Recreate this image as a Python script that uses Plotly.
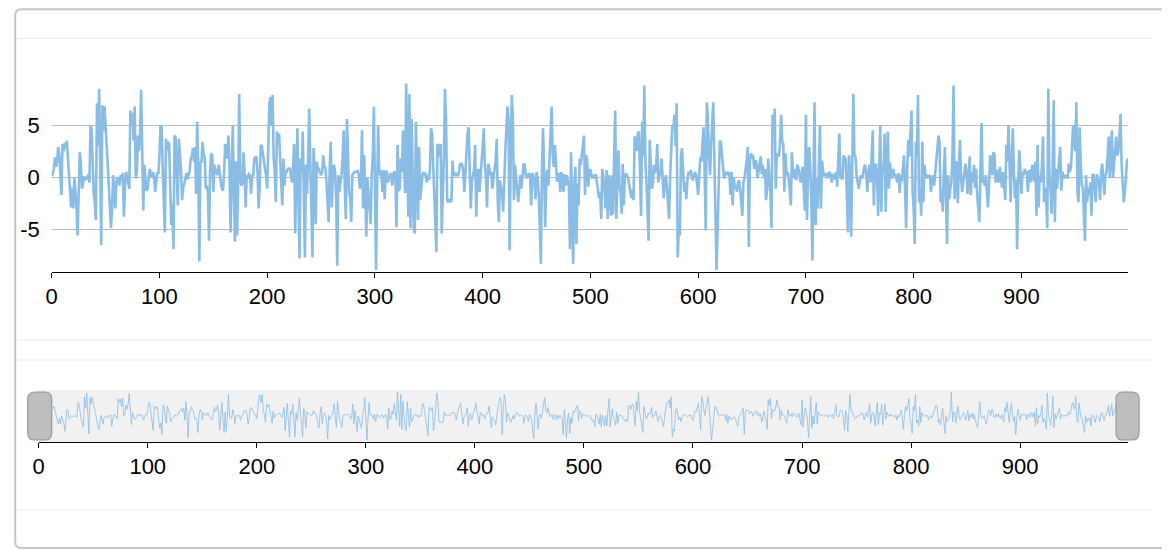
import plotly.graph_objects as go
from plotly.subplots import make_subplots

# series values, index 0..999
vals_000 = [0.1, 0.3, 0.8, 1.9, 1.0, 1.5, 2.9, 2.2, 0.3, -1.7,
            3.2, 2.5, 3.3, 2.8, 3.5, 2.0, 0.6, -0.5, -2.9, -1.0,
            -3.0, 0.0, -1.5, -2.8, -5.6, -0.5, 2.4, 1.5, -1.1, -0.6,
            0.1, -0.3, 0.0, -0.2, 0.3, -0.5, 5.0, 4.6, 1.0, -1.5,
            -2.5, -4.1, 7.1, 3.0, 8.5, 2.0, -6.5, 6.9, 4.5, 6.8,
            5.3, 3.0, 1.2, -0.5, -2.0, -4.9, -3.0, 0.2, -1.0, -3.0,
            -0.5, 0.0, -0.3, -0.8, 0.2, -0.1, 0.4, -3.8, -1.0, 0.5,
            0.2, -0.4, -1.1, 6.4, 5.0, 6.2, 3.5, 6.8, -0.1, 0.5,
            4.0, 2.5, 4.3, 8.4, 2.0, -3.2, 1.2, -0.5, -1.3, -1.1,
            0.2, 0.8, 0.2, 0.1, 0.5, 0.0, -1.4, 0.0, 0.5, 0.3]
vals_100 = [2.0, 5.0, 4.8, 1.0, -2.0, -5.3, 3.7, 2.5, 3.4, 3.2,
            -1.0, -4.6, -2.5, -6.9, 4.0, 3.8, 0.5, -2.7, 3.7, 2.0,
            0.8, -2.2, -1.0, -0.7, 0.0, 0.4, -0.2, 0.2, 0.6, 1.8,
            2.0, 2.8, 1.5, 2.9, -1.6, 5.3, 1.0, -8.1, 1.5, 1.4,
            3.4, 2.2, 1.8, -1.1, -0.8, -1.5, -6.1, 0.5, 2.3, 2.1,
            -1.4, 1.2, 0.3, 0.8, 0.2, 1.2, 0.1, -0.5, -1.1, -1.3,
            0.5, 3.2, 1.8, 2.1, 4.0, 1.0, -5.3, 0.5, 5.0, -1.0,
            -6.2, 1.5, -5.6, -1.0, 8.0, 0.0, -0.8, -0.6, 2.4, 0.5,
            -2.9, 0.2, -0.1, 0.3, 0.2, -1.6, 0.0, 0.2, 1.8, 1.9,
            2.0, 0.5, -3.0, -1.0, 3.1, 3.0, 2.0, 1.5, 0.8, 0.2]
vals_200 = [-1.1, 3.0, 7.1, 7.7, 5.0, 7.9, 1.8, 0.5, -2.4, 4.4,
            3.5, 4.2, 1.5, -0.8, -2.7, 1.8, -0.8, 0.5, 0.5, 0.8,
            0.8, 0.9, 0.3, -0.5, 1.0, 3.2, -5.4, 2.0, 4.7, -2.0,
            -7.8, 1.8, 0.5, 4.4, -1.0, -7.7, 1.2, -1.6, 2.0, 6.6,
            1.5, -2.5, -7.7, 2.8, 0.5, -4.5, 1.5, 0.8, 0.8, 0.4,
            0.2, 0.5, 2.1, 0.8, 1.0, -0.5, -2.0, -4.3, 1.0, 3.4,
            -2.9, 0.8, 1.2, 0.5, -2.0, -8.5, 0.2, -1.4, -0.5, 0.2,
            2.0, 4.5, -1.0, -4.0, 5.6, 2.0, -1.4, -2.0, -4.3, 0.2,
            0.4, 0.5, 0.5, 0.6, 0.6, 0.2, -1.1, -0.4, 4.5, -3.0,
            2.1, -1.2, -5.7, 0.0, -1.5, -3.0, -4.5, 0.2, 2.0, 6.8]
vals_300 = [-2.0, -8.9, -1.0, 5.0, 0.2, 0.7, 0.1, -1.4, 0.7, -2.1,
            0.5, 0.6, -0.5, -0.1, 0.2, 0.4, -0.8, 0.2, 0.6, 0.0,
            -4.8, 3.1, -1.3, -1.1, 1.8, 0.5, 4.5, 1.3, -1.5, 9.0,
            2.5, -3.8, 8.0, -4.9, 5.6, 1.0, -4.9, -5.4, 5.3, 0.5,
            -4.1, 2.9, -2.2, -1.1, 0.2, 0.5, 0.2, 0.4, -0.5, 0.2,
            -0.3, 0.6, 4.7, 4.2, 1.2, -1.5, -5.4, -7.2, 3.2, 2.8,
            2.0, 3.2, -5.4, -2.4, 2.0, 8.5, 5.6, -2.2, -2.4, -2.1,
            -2.4, -2.2, 1.6, 0.2, 0.2, 0.4, 0.2, 0.2, 0.5, 1.3,
            1.3, 1.2, 0.5, -1.4, 1.3, 2.5, 4.2, 4.8, 0.5, -3.0,
            -0.4, 0.2, 0.8, 3.1, -3.8, 0.2, 0.8, -1.4, -0.1, 1.5]
vals_400 = [3.0, 4.7, 1.0, 0.2, -2.9, 1.3, 1.0, 0.2, 0.5, -1.1,
            0.2, 0.8, 1.5, 3.7, -2.4, -4.3, -0.3, -0.8, -1.5, -3.3,
            0.2, 2.5, 4.7, 6.8, 5.5, -7.0, 2.0, 7.9, 5.8, -2.2,
            1.2, -0.3, -1.1, -2.4, -1.1, 0.2, -1.1, 0.5, 1.3, 1.2,
            0.2, -0.1, 0.2, 0.4, 0.0, -2.7, 0.4, 0.2, -0.5, -2.1,
            0.5, -0.1, -1.5, -4.6, -8.3, 0.7, 4.7, 0.5, -4.8, -0.1,
            0.7, -0.8, 1.5, 3.1, 6.8, 2.1, 1.0, 3.1, 0.8, -0.4,
            0.2, 0.4, -1.4, 0.5, 0.0, -1.4, 0.3, -0.8, 0.2, -0.3,
            -0.9, -6.9, 2.4, -3.0, -8.3, -0.8, 1.0, -6.4, -0.6, -2.7,
            1.8, 1.2, 2.0, 3.1, 4.0, -1.7, 2.1, 1.6, -0.9, 0.7]
vals_500 = [0.7, 0.2, -0.1, 0.2, -0.1, 0.3, -0.5, -1.2, -2.0, -1.4,
            -4.0, 0.8, -0.1, -1.0, -3.0, 0.7, -4.0, 0.2, -1.0, -3.7,
            0.2, -3.6, 2.0, 6.4, -4.0, 0.8, 2.6, -0.8, -1.5, -3.5,
            1.3, -2.7, 0.2, 0.3, 0.2, -0.1, -0.8, -1.7, -2.0, -1.2,
            -2.2, 3.9, 3.7, 2.5, 4.2, 4.4, 1.0, -3.7, 5.3, 2.0,
            8.8, 1.5, -0.5, -3.0, -6.1, 3.6, 1.2, -1.1, -0.6, 1.2,
            0.4, 1.0, 3.2, -0.5, 0.2, 0.4, 1.8, 0.2, -2.0, -0.5,
            0.2, -1.0, -2.5, -4.0, 0.2, 2.0, 5.0, 4.8, 6.0, 3.0,
            7.1, -7.7, -4.9, -5.6, 2.1, 2.8, 0.5, -1.4, -0.5, -2.1,
            -0.3, 0.5, 0.2, 0.7, 0.2, -0.3, 0.2, 0.4, 0.3, -1.0]
vals_600 = [-1.7, 0.2, 1.9, 1.5, 3.0, 4.8, 0.5, -5.1, 7.2, 5.6,
            2.1, 0.2, 3.1, 5.0, 7.2, 1.8, -3.0, -8.9, -5.3, -1.4,
            3.4, 3.4, 2.0, 0.5, -0.1, 0.2, 0.5, 0.2, 0.5, 0.2,
            -1.7, 0.5, -2.7, 0.0, -1.1, -0.8, -1.4, -0.5, -0.3, -1.2,
            -2.5, -3.7, -0.5, -0.1, 0.8, 1.5, 2.9, -6.7, 1.5, 2.3,
            2.0, 2.1, 0.8, 1.6, 1.5, -0.1, 0.5, 1.5, 2.0, 0.3,
            1.2, -0.1, 0.8, -2.2, -1.1, 1.8, 0.5, -1.5, -4.9, 6.0,
            4.0, 6.6, -1.1, 2.3, 2.1, 2.0, 3.4, 6.0, 3.4, 3.2,
            -1.4, 2.3, 0.2, 0.5, -0.1, -1.5, -2.7, 2.4, 0.3, -0.1,
            0.8, -0.3, 1.2, 0.9, 0.2, -0.5, 0.3, 1.0, -1.0, -3.2]
vals_700 = [6.0, -4.1, 0.8, 2.9, 1.0, -2.0, -8.0, 2.0, 7.2, -4.6,
            -0.1, -3.0, 1.0, 5.0, -3.0, 1.6, 0.5, 0.2, 0.2, 0.3,
            -0.1, 0.2, 0.5, 0.2, -0.5, 0.3, 0.2, -0.2, 0.5, -0.9,
            1.5, 4.2, 0.0, -0.1, -0.2, 2.1, 1.8, 1.8, -1.0, -5.3,
            2.1, 0.5, -5.7, 2.0, 8.0, 2.1, 2.0, 0.2, -0.5, -1.1,
            -0.5, 0.2, -0.1, 0.2, 1.0, 1.2, 0.3, -1.4, 0.5, 1.2,
            -0.5, 2.0, 4.5, -2.7, 0.5, 1.3, 0.5, -3.7, 2.0, 5.0,
            -3.3, 1.2, 0.5, 4.2, -3.3, 1.0, 4.4, -1.1, 1.4, 0.2,
            -0.1, 0.8, 0.2, 0.2, -0.1, -0.5, 0.4, -1.5, 0.2, -0.4,
            0.8, 2.1, -1.0, -4.9, 0.8, 3.6, 2.0, 4.5, 6.4, -1.4]
vals_800 = [-3.0, -6.4, 3.4, 2.0, 7.9, -2.4, -1.5, -3.7, 3.4, -2.4,
            1.2, 0.2, -0.1, 0.2, 0.0, 0.2, -1.4, -0.5, 0.2, -0.8,
            0.5, 1.5, 2.5, 4.0, 3.4, -2.4, -1.2, -3.3, 0.5, 2.9,
            -2.0, -6.4, 0.2, -2.1, -1.1, -0.5, 2.0, 8.8, -2.1, 1.5,
            1.4, -2.5, 1.0, 3.6, 0.0, -1.4, -0.5, 0.2, 1.3, 0.5,
            -1.6, 0.2, 2.0, -1.7, 0.5, -0.5, 1.2, -1.0, 0.8, -1.8,
            -2.9, -4.3, 0.5, 5.2, -0.5, -0.4, -0.8, 0.2, -1.5, -2.9,
            -0.5, 2.1, 1.8, 0.2, 2.4, 2.2, -0.5, -0.3, 0.7, -0.5,
            1.0, 0.2, -1.0, 0.5, -0.9, -2.2, 3.1, 1.5, 5.0, 0.8,
            -2.4, 1.5, 4.7, 0.5, -2.0, -0.2, -6.9, -0.8, 2.6, 0.8]
vals_900 = [-1.6, 0.5, 0.2, 0.8, 0.4, 0.6, -1.4, 0.5, 0.7, -0.5,
            1.2, 0.8, -0.4, 1.5, -3.7, 3.1, -2.9, 0.2, -0.5, 1.0,
            3.9, -2.4, -1.0, -2.0, -4.9, 8.5, -0.1, -1.2, -3.5, 1.0,
            7.4, -4.3, 0.8, -1.1, 0.5, 1.0, 2.9, -1.3, 0.5, 0.2,
            -0.1, 0.2, 0.0, -0.1, 1.3, 0.5, 1.0, 3.0, 5.0, 3.4,
            2.5, 7.2, -1.4, -2.4, 4.8, 1.5, -0.8, -1.0, -3.0, -6.1,
            0.2, -2.4, -1.0, -1.7, -0.5, -3.7, 0.3, 0.2, -1.0, -2.4,
            0.3, -0.1, -0.5, -2.2, 0.5, 1.3, -0.5, -1.7, 0.2, 0.5,
            2.0, 3.9, -0.1, 2.0, 4.5, 0.0, 1.5, 2.2, 3.9, 2.1,
            2.5, 4.0, 6.1, 1.2, -0.5, -2.4, -1.5, 0.5, 1.6, 1.8]

values = (vals_000 + vals_100 + vals_200 + vals_300 + vals_400 +
          vals_500 + vals_600 + vals_700 + vals_800 + vals_900)
index = list(range(len(values)))

x_ticks = [0, 100, 200, 300, 400, 500, 600, 700, 800, 900]
y_ticks = [-5, 0, 5]
y_labels = ["-5", "0", "5"]

# where the figure lands in the browser shot (measured from earlier renders)
X_OFF, X_SCALE, Y_OFF = 13.3, 0.9945, 8
W, H = 1162, 542
LINE = "#8abde6"
FONT = "Liberation Sans, Arial, sans-serif"


def px(x):
    return (x - X_OFF) / X_SCALE / W


def py(y):
    return 1 - (y - Y_OFF) / H


def box_path(x0, y0, x1, y1, r):
    # rounded rectangle given in screen pixels -> paper coords path
    pts = [("M", [(x0 + r, y0)]), ("L", [(x1 - r, y0)]), ("Q", [(x1, y0), (x1, y0 + r)]),
           ("L", [(x1, y1 - r)]), ("Q", [(x1, y1), (x1 - r, y1)]),
           ("L", [(x0 + r, y1)]), ("Q", [(x0, y1), (x0, y1 - r)]),
           ("L", [(x0, y0 + r)]), ("Q", [(x0, y0), (x0 + r, y0)])]
    out = []
    for cmd, coords in pts:
        s = " ".join("%.5f,%.5f" % (px(cx), py(cy)) for cx, cy in coords)
        out.append(cmd + " " + s)
    return " ".join(out) + " Z"


fig = make_subplots(rows=2, cols=1)

fig.add_trace(go.Scatter(x=index, y=values, mode="lines",
                         line=dict(color=LINE, width=2.6),
                         hoverinfo="x+y"), row=1, col=1)
fig.add_trace(go.Scatter(x=index, y=values, mode="lines",
                         line=dict(color=LINE, width=0.8),
                         hoverinfo="skip"), row=2, col=1)

tick_font = dict(family=FONT, size=22, color="#000000")

fig.update_xaxes(row=1, col=1, domain=[px(51), px(1127)], range=[0, 999],
                 tickvals=x_ticks, showgrid=False, zeroline=False,
                 showline=True, linecolor="#000000", linewidth=1,
                 ticks="outside", ticklen=5, tickcolor="#000000",
                 tickfont=tick_font, ticklabelstandoff=0)
fig.update_yaxes(row=1, col=1, domain=[py(271.5), py(83)], range=[-9.05, 9.05],
                 tickvals=y_ticks, ticktext=y_labels, showgrid=True,
                 gridcolor="#bcbcbc", gridwidth=1, zeroline=False,
                 showline=False, ticks="", ticklabelstandoff=11,
                 tickfont=tick_font)

fig.update_xaxes(row=2, col=1, domain=[px(38), px(1127)], range=[0, 999],
                 tickvals=x_ticks, showgrid=False, zeroline=False,
                 showline=True, linecolor="#000000", linewidth=1,
                 ticks="outside", ticklen=5, tickcolor="#000000",
                 tickfont=tick_font, ticklabelstandoff=0)
fig.update_yaxes(row=2, col=1, domain=[py(442), py(390)], range=[-9.6, 9.6],
                 visible=False)

shapes = []
# slider background
shapes.append(dict(type="rect", xref="x2 domain", yref="y2 domain",
                   x0=0, x1=1, y0=0, y1=1, fillcolor="#f1f1f1",
                   line=dict(width=0), layer="below"))
# slider handles
for hx0, hx1 in [(27, 51), (1115, 1138)]:
    shapes.append(dict(type="path", xref="paper", yref="paper",
                       path=box_path(hx0, 392, hx1, 440, 7),
                       fillcolor="#bdbdbd", line=dict(color="#9a9a9a", width=1.2)))
# faint panel separators
for yy in [38.5, 340, 360, 510]:
    shapes.append(dict(type="line", xref="paper", yref="paper",
                       x0=px(14.5), x1=px(1152), y0=py(yy), y1=py(yy),
                       line=dict(color="#ebebeb", width=1)))
# outer frame (left/top edges as close to the page corner as the figure reaches)
shapes.append(dict(type="path", xref="paper", yref="paper",
                   path=box_path(14.5, 9.2, 1166.8, 548, 6),
                   line=dict(color="#c6c6c6", width=2)))

fig.update_layout(width=W, height=H, margin=dict(l=0, r=0, t=0, b=0),
                  paper_bgcolor="#ffffff", plot_bgcolor="#ffffff",
                  showlegend=False, shapes=shapes,
                  font=dict(family=FONT, size=22, color="#000000"))

fig.write_html("out.html")
